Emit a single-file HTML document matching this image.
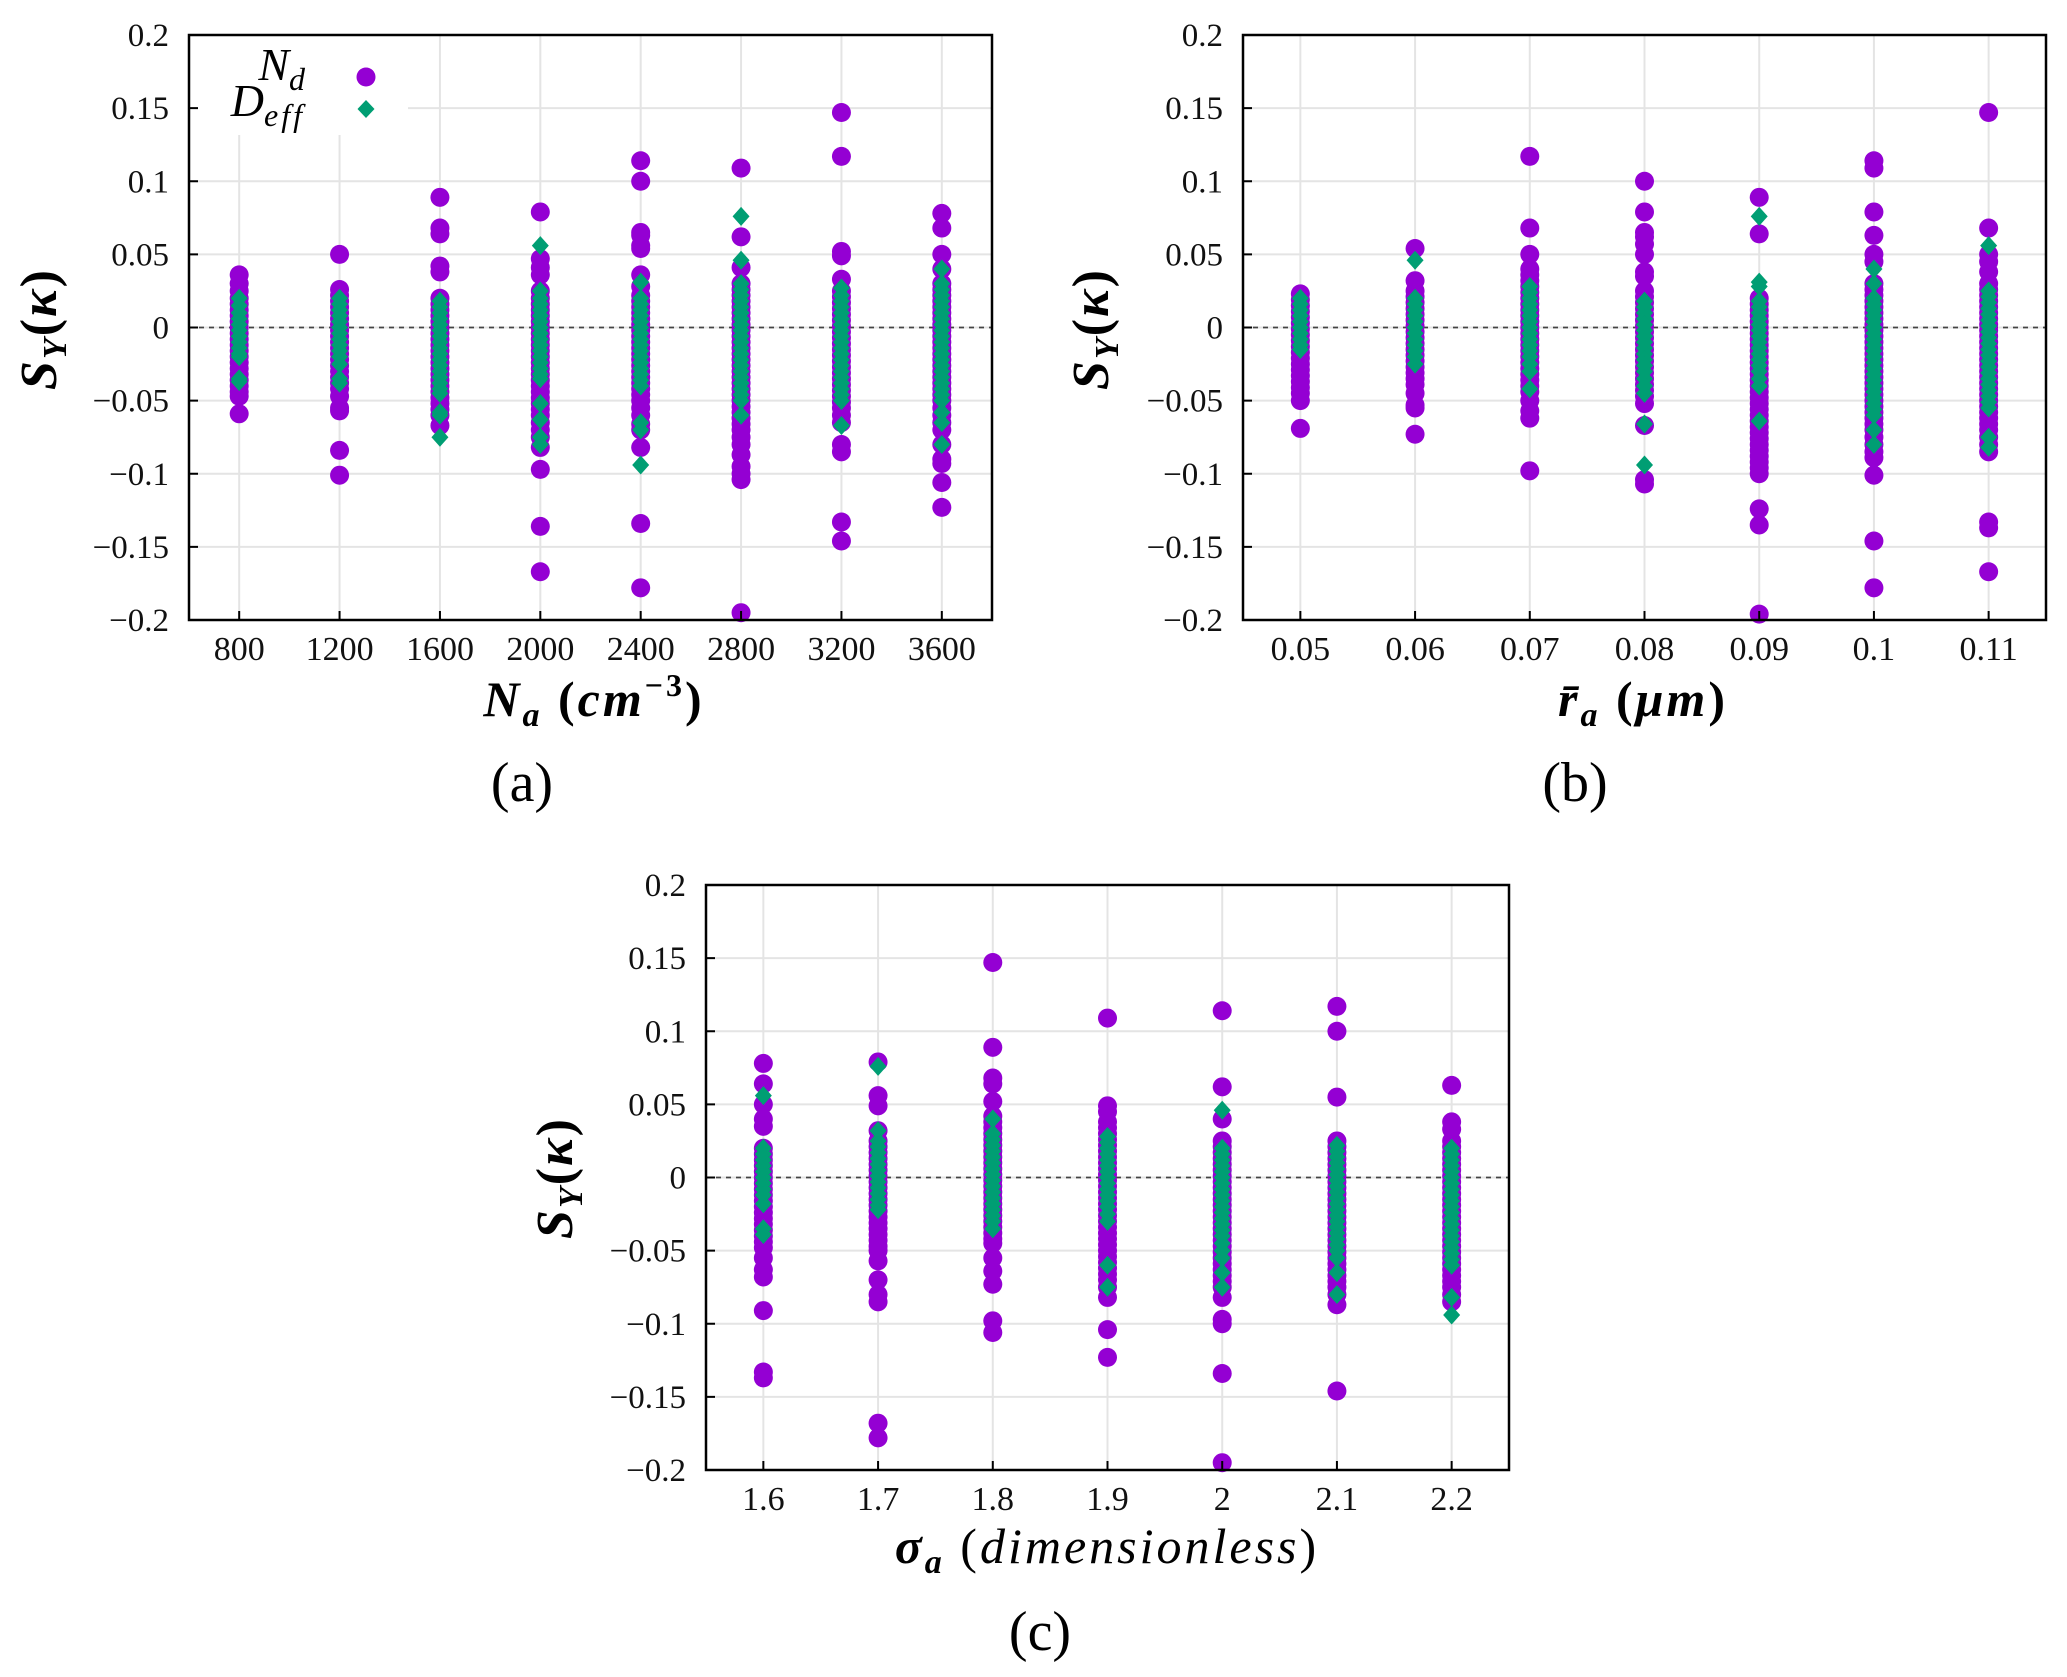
<!DOCTYPE html>
<html><head><meta charset="utf-8"><style>
html,body{margin:0;padding:0;background:#fff;}
svg{display:block;font-family:"Liberation Serif",serif;}
</style></head><body>
<svg id="fig" width="2067" height="1677" viewBox="0 0 2067 1677" xmlns="http://www.w3.org/2000/svg"></svg>
<script>
// ---------- Panel (a) data ----------
const aCategories = [800,1200,1600,2000,2400,2800,3200,3600];
const aNd = [
 [0.036,0.03,0.025,0.02,0.016,0.012,0.008,0.004,0,-0.004,-0.008,-0.012,-0.016,-0.02,-0.024,-0.028,-0.032,-0.036,-0.04,-0.044,-0.047,-0.059],
 [0.05,0.026,0.022,0.018,0.014,0.01,0.006,0.002,-0.002,-0.006,-0.01,-0.014,-0.018,-0.022,-0.026,-0.03,-0.034,-0.038,-0.042,-0.047,-0.055,-0.057,-0.084,-0.101],
 [0.089,0.068,0.064,0.042,0.038,0.02,0.016,0.012,0.008,0.004,0,-0.004,-0.008,-0.012,-0.016,-0.02,-0.024,-0.028,-0.032,-0.036,-0.04,-0.044,-0.048,-0.052,-0.056,-0.06,-0.067],
 [0.079,0.047,0.041,0.036,0.025,0.02,0.016,0.012,0.008,0.004,0,-0.004,-0.008,-0.012,-0.016,-0.02,-0.024,-0.028,-0.032,-0.036,-0.04,-0.044,-0.048,-0.052,-0.056,-0.06,-0.065,-0.07,-0.075,-0.082,-0.097,-0.136,-0.167],
 [0.114,0.1,0.065,0.063,0.056,0.054,0.036,0.028,0.022,0.018,0.014,0.01,0.006,0.002,-0.002,-0.006,-0.01,-0.014,-0.018,-0.022,-0.026,-0.03,-0.034,-0.038,-0.042,-0.046,-0.05,-0.055,-0.06,-0.066,-0.07,-0.082,-0.134,-0.178],
 [0.109,0.062,0.041,0.03,0.026,0.022,0.018,0.014,0.01,0.006,0.002,-0.002,-0.006,-0.01,-0.014,-0.018,-0.022,-0.026,-0.03,-0.034,-0.038,-0.042,-0.046,-0.05,-0.054,-0.058,-0.062,-0.066,-0.07,-0.075,-0.08,-0.087,-0.095,-0.1,-0.104,-0.195],
 [0.147,0.117,0.052,0.049,0.033,0.025,0.021,0.017,0.013,0.009,0.005,0.001,-0.003,-0.007,-0.011,-0.015,-0.019,-0.023,-0.027,-0.031,-0.035,-0.039,-0.043,-0.047,-0.051,-0.055,-0.06,-0.065,-0.08,-0.085,-0.133,-0.146],
 [0.078,0.068,0.05,0.04,0.03,0.026,0.022,0.018,0.014,0.01,0.006,0.002,-0.002,-0.006,-0.01,-0.014,-0.018,-0.022,-0.026,-0.03,-0.034,-0.038,-0.042,-0.046,-0.05,-0.055,-0.06,-0.065,-0.07,-0.08,-0.09,-0.093,-0.106,-0.123]
];
const aDeff = [
 [0.02,0.015,0.01,0.006,0.002,-0.002,-0.006,-0.01,-0.014,-0.018,-0.02,-0.035,-0.037],
 [0.02,0.016,0.012,0.008,0.004,0,-0.004,-0.008,-0.012,-0.016,-0.02,-0.025,-0.035,-0.038],
 [0.018,0.014,0.01,0.006,0.002,-0.002,-0.006,-0.01,-0.014,-0.018,-0.022,-0.026,-0.03,-0.034,-0.038,-0.042,-0.045,-0.058,-0.06,-0.075],
 [0.056,0.025,0.02,0.016,0.012,0.008,0.004,0,-0.004,-0.008,-0.012,-0.016,-0.02,-0.024,-0.028,-0.032,-0.035,-0.052,-0.063,-0.075,-0.08],
 [0.031,0.02,0.016,0.012,0.008,0.004,0,-0.004,-0.008,-0.012,-0.016,-0.02,-0.024,-0.028,-0.032,-0.036,-0.04,-0.065,-0.07,-0.094],
 [0.076,0.046,0.03,0.026,0.022,0.018,0.014,0.01,0.006,0.002,-0.002,-0.006,-0.01,-0.014,-0.018,-0.022,-0.026,-0.03,-0.034,-0.038,-0.042,-0.046,-0.05,-0.06],
 [0.027,0.022,0.018,0.014,0.01,0.006,0.002,-0.002,-0.006,-0.01,-0.014,-0.018,-0.022,-0.026,-0.03,-0.034,-0.038,-0.042,-0.046,-0.05,-0.067],
 [0.04,0.03,0.026,0.022,0.018,0.014,0.01,0.006,0.002,-0.002,-0.006,-0.01,-0.014,-0.018,-0.022,-0.026,-0.03,-0.034,-0.038,-0.042,-0.046,-0.05,-0.058,-0.065,-0.08]
];
const aTicks = ["800","1200","1600","2000","2400","2800","3200","3600"];
// ---------- Panel (b) data ----------
const bCategories = [0.05,0.06,0.07,0.08,0.09,0.1,0.11];
const bNd = [
 [0.023,0.019,0.015,0.011,0.007,0.003,-0.001,-0.005,-0.009,-0.013,-0.017,-0.021,-0.025,-0.029,-0.033,-0.037,-0.041,-0.045,-0.05,-0.069],
 [0.054,0.032,0.025,0.021,0.017,0.013,0.009,0.005,0.001,-0.003,-0.007,-0.011,-0.015,-0.019,-0.023,-0.027,-0.031,-0.035,-0.039,-0.045,-0.053,-0.055,-0.073],
 [0.117,0.068,0.05,0.04,0.036,0.032,0.028,0.024,0.02,0.016,0.012,0.008,0.004,0,-0.004,-0.008,-0.012,-0.016,-0.02,-0.024,-0.028,-0.032,-0.036,-0.04,-0.044,-0.05,-0.057,-0.062,-0.098],
 [0.1,0.079,0.065,0.062,0.057,0.05,0.038,0.035,0.025,0.021,0.017,0.013,0.009,0.005,0.001,-0.003,-0.007,-0.011,-0.015,-0.019,-0.023,-0.027,-0.031,-0.035,-0.039,-0.043,-0.047,-0.052,-0.067,-0.104,-0.107],
 [0.089,0.064,0.02,0.016,0.012,0.008,0.004,0,-0.004,-0.008,-0.012,-0.016,-0.02,-0.024,-0.028,-0.032,-0.036,-0.04,-0.044,-0.048,-0.052,-0.056,-0.06,-0.064,-0.068,-0.072,-0.076,-0.08,-0.084,-0.088,-0.092,-0.096,-0.1,-0.124,-0.135,-0.196],
 [0.114,0.109,0.079,0.063,0.05,0.045,0.03,0.026,0.022,0.018,0.014,0.01,0.006,0.002,-0.002,-0.006,-0.01,-0.014,-0.018,-0.022,-0.026,-0.03,-0.034,-0.038,-0.042,-0.046,-0.05,-0.054,-0.058,-0.062,-0.066,-0.07,-0.075,-0.08,-0.085,-0.089,-0.101,-0.146,-0.178],
 [0.147,0.068,0.05,0.045,0.038,0.03,0.026,0.022,0.018,0.014,0.01,0.006,0.002,-0.002,-0.006,-0.01,-0.014,-0.018,-0.022,-0.026,-0.03,-0.034,-0.038,-0.042,-0.046,-0.05,-0.054,-0.058,-0.062,-0.066,-0.07,-0.075,-0.08,-0.085,-0.133,-0.137,-0.167]
];
const bDeff = [
 [0.02,0.016,0.012,0.008,0.004,0,-0.004,-0.008,-0.012,-0.015],
 [0.046,0.02,0.016,0.012,0.008,0.004,0,-0.004,-0.008,-0.012,-0.016,-0.02,-0.025],
 [0.028,0.024,0.02,0.016,0.012,0.008,0.004,0,-0.004,-0.008,-0.012,-0.016,-0.02,-0.025,-0.03,-0.042],
 [0.018,0.014,0.01,0.006,0.002,-0.002,-0.006,-0.01,-0.014,-0.018,-0.022,-0.026,-0.03,-0.035,-0.04,-0.045,-0.066,-0.094],
 [0.076,0.031,0.028,0.018,0.014,0.01,0.006,0.002,-0.002,-0.006,-0.01,-0.014,-0.018,-0.022,-0.026,-0.03,-0.035,-0.04,-0.064],
 [0.04,0.03,0.02,0.016,0.012,0.008,0.004,0,-0.004,-0.008,-0.012,-0.016,-0.02,-0.024,-0.028,-0.032,-0.036,-0.04,-0.044,-0.048,-0.052,-0.056,-0.06,-0.07,-0.08],
 [0.056,0.025,0.021,0.017,0.013,0.009,0.005,0.001,-0.003,-0.007,-0.011,-0.015,-0.019,-0.023,-0.027,-0.031,-0.035,-0.039,-0.043,-0.047,-0.051,-0.055,-0.075,-0.082]
];
const bTicks = ["0.05","0.06","0.07","0.08","0.09","0.1","0.11"];
// ---------- Panel (c) data ----------
const cCategories = [1.6,1.7,1.8,1.9,2.0,2.1,2.2];
const cNd = [
 [0.078,0.064,0.05,0.04,0.035,0.02,0.016,0.012,0.008,0.004,0,-0.004,-0.008,-0.012,-0.016,-0.02,-0.024,-0.028,-0.032,-0.036,-0.04,-0.044,-0.048,-0.055,-0.063,-0.068,-0.091,-0.133,-0.137],
 [0.079,0.056,0.049,0.032,0.025,0.021,0.017,0.013,0.009,0.005,0.001,-0.003,-0.007,-0.011,-0.015,-0.019,-0.023,-0.027,-0.031,-0.035,-0.039,-0.043,-0.047,-0.05,-0.057,-0.07,-0.08,-0.085,-0.168,-0.178],
 [0.147,0.089,0.068,0.064,0.052,0.042,0.038,0.034,0.03,0.026,0.022,0.018,0.014,0.01,0.006,0.002,-0.002,-0.006,-0.01,-0.014,-0.018,-0.022,-0.026,-0.03,-0.034,-0.038,-0.042,-0.045,-0.055,-0.064,-0.073,-0.098,-0.106],
 [0.109,0.049,0.045,0.038,0.034,0.03,0.026,0.022,0.018,0.014,0.01,0.006,0.002,-0.002,-0.006,-0.01,-0.014,-0.018,-0.022,-0.026,-0.03,-0.034,-0.038,-0.042,-0.046,-0.05,-0.054,-0.058,-0.062,-0.066,-0.07,-0.075,-0.082,-0.104,-0.123],
 [0.114,0.062,0.04,0.025,0.021,0.017,0.013,0.009,0.005,0.001,-0.003,-0.007,-0.011,-0.015,-0.019,-0.023,-0.027,-0.031,-0.035,-0.039,-0.043,-0.047,-0.051,-0.055,-0.059,-0.063,-0.067,-0.071,-0.075,-0.082,-0.097,-0.1,-0.134,-0.195],
 [0.117,0.1,0.055,0.025,0.021,0.017,0.013,0.009,0.005,0.001,-0.003,-0.007,-0.011,-0.015,-0.019,-0.023,-0.027,-0.031,-0.035,-0.039,-0.043,-0.047,-0.051,-0.055,-0.059,-0.063,-0.067,-0.071,-0.075,-0.08,-0.087,-0.146],
 [0.063,0.038,0.033,0.025,0.021,0.017,0.013,0.009,0.005,0.001,-0.003,-0.007,-0.011,-0.015,-0.019,-0.023,-0.027,-0.031,-0.035,-0.039,-0.043,-0.047,-0.051,-0.055,-0.059,-0.063,-0.067,-0.071,-0.075,-0.08,-0.085]
];
const cDeff = [
 [0.056,0.02,0.016,0.012,0.008,0.004,0,-0.004,-0.008,-0.012,-0.018,-0.035,-0.039],
 [0.076,0.032,0.025,0.021,0.017,0.013,0.009,0.005,0.001,-0.003,-0.007,-0.011,-0.015,-0.019,-0.022],
 [0.04,0.03,0.026,0.022,0.018,0.014,0.01,0.006,0.002,-0.002,-0.006,-0.01,-0.014,-0.018,-0.022,-0.026,-0.03,-0.035],
 [0.028,0.024,0.02,0.016,0.012,0.008,0.004,0,-0.004,-0.008,-0.012,-0.016,-0.02,-0.025,-0.03,-0.06,-0.075],
 [0.046,0.02,0.016,0.012,0.008,0.004,0,-0.004,-0.008,-0.012,-0.016,-0.02,-0.024,-0.028,-0.032,-0.036,-0.04,-0.045,-0.05,-0.055,-0.065,-0.075],
 [0.022,0.018,0.014,0.01,0.006,0.002,-0.002,-0.006,-0.01,-0.014,-0.018,-0.022,-0.026,-0.03,-0.034,-0.038,-0.042,-0.046,-0.05,-0.055,-0.065,-0.08],
 [0.02,0.016,0.012,0.008,0.004,0,-0.004,-0.008,-0.012,-0.016,-0.02,-0.024,-0.028,-0.032,-0.036,-0.04,-0.044,-0.048,-0.052,-0.056,-0.06,-0.082,-0.094]
];
const cTicks = ["1.6","1.7","1.8","1.9","2","2.1","2.2"];
// ---------- shared y axis ----------
const yTickValues = [0.2,0.15,0.1,0.05,0,-0.05,-0.1,-0.15,-0.2];
const yTickLabels = ["0.2","0.15","0.1","0.05","0","\u22120.05","\u22120.1","\u22120.15","\u22120.2"];

const NS = "http://www.w3.org/2000/svg";
const svg = document.getElementById('fig');
function mk(tag, attrs, parent){
  const e = document.createElementNS(NS, tag);
  for (const k in attrs) e.setAttribute(k, attrs[k]);
  (parent||svg).appendChild(e);
  return e;
}
const PURPLE = "#9400D3", GREEN = "#009E73";

function panel(p){
  const g = mk('g', {});
  
  
  const X = v => p.L + (v - p.x0) / (p.x1 - p.x0) * (p.R - p.L);
  const Y = v => p.T + (0.2 - v) / 0.4 * (p.B - p.T);
  yTickValues.forEach((v,i) => {
    const l = mk('line', {x1:p.L, x2:p.R, y1:Y(v), y2:Y(v), stroke:'#e4e4e4', 'stroke-width':2}, g);
    
    
  });
  p.cats.forEach((c,i) => {
    const l = mk('line', {x1:X(c), x2:X(c), y1:p.T, y2:p.B, stroke:'#e4e4e4', 'stroke-width':2}, g);
    
    
  });
  if (p.legend){
    const r = mk('rect', {x:p.L+1, y:p.T+1, width:218, height:99, fill:'#fff'}, g);
    
    
  }
  const z = mk('line', {x1:p.L, x2:p.R, y1:Y(0), y2:Y(0), stroke:'#444', 'stroke-width':1.8, 'stroke-dasharray':'5,5'}, g);
  
  
  p.nd.forEach((col,i) => col.forEach(v => {
    const c = mk('circle', {cx:X(p.cats[i]), cy:Y(v), r:9.5, fill:PURPLE}, g);
    
    
  }));
  p.deff.forEach((col,i) => col.forEach(v => {
    const cx = X(p.cats[i]), cy = Y(v);
    const d = mk('polygon', {points:`${cx},${cy-9.5} ${cx+8.5},${cy} ${cx},${cy+9.5} ${cx-8.5},${cy}`, fill:GREEN}, g);
    
    
  }));
  const f = mk('rect', {x:p.L, y:p.T, width:p.R-p.L, height:p.B-p.T, fill:'none', stroke:'#000', 'stroke-width':2.5}, g);
  
  
  yTickValues.forEach((v,i) => {
    mk('line', {x1:p.L, x2:p.L+9, y1:Y(v), y2:Y(v), stroke:'#000', 'stroke-width':2}, g);
    const t = mk('text', {x:p.L-20, y:Y(v)+11, 'font-size':33, 'text-anchor':'end', fill:'#111'}, g);
    t.textContent = yTickLabels[i];
    
    
  });
  p.cats.forEach((c,i) => {
    mk('line', {x1:X(c), x2:X(c), y1:p.B, y2:p.B-9, stroke:'#000', 'stroke-width':2}, g);
    const t = mk('text', {x:X(c), y:p.B+40, 'font-size':34, 'text-anchor':'middle', fill:'#111'}, g);
    t.textContent = p.ticks[i];
    
    
  });
  return {g, X, Y};
}

function addText(html, attrs, name){
  const t = mk('text', attrs);
  t.innerHTML = html;
  
  
  return t;
}
const ytitle = '<tspan font-weight="bold" font-style="italic">S</tspan><tspan font-weight="bold" font-style="italic" font-size="34" dy="10">Y</tspan><tspan dy="-10" font-weight="bold">(</tspan><tspan font-weight="bold" font-style="italic">κ</tspan><tspan font-weight="bold">)</tspan>';

panel({name:'panel-a', L:189, R:992, T:35, B:620, x0:600, x1:3800, cats:aCategories, nd:aNd, deff:aDeff, ticks:aTicks, legend:true});
panel({name:'panel-b', L:1243, R:2046, T:35, B:620, x0:0.045, x1:0.115, cats:bCategories, nd:bNd, deff:bDeff, ticks:bTicks});
panel({name:'panel-c', L:706, R:1509, T:885, B:1470, x0:1.55, x1:2.25, cats:cCategories, nd:cNd, deff:cDeff, ticks:cTicks});

addText('<tspan font-style="italic">N</tspan><tspan font-style="italic" font-size="32" dy="10">d</tspan>', {x:305, y:80, 'font-size':46, 'text-anchor':'end'}, 'legend-label-nd');
addText('<tspan font-style="italic">D</tspan><tspan font-style="italic" font-size="32" dy="10" letter-spacing="3">eff</tspan>', {x:305, y:116, 'font-size':46, 'text-anchor':'end'}, 'legend-label-deff');
const lc = mk('circle', {cx:366, cy:77, r:9.5, fill:PURPLE});


const ld = mk('polygon', {points:'366,100 374.5,109 366,118 357.5,109', fill:GREEN});



addText(ytitle, {x:0, y:0, 'font-size':52, 'text-anchor':'middle', 'letter-spacing':2, transform:'translate(56,329) rotate(-90)'}, 'y-axis-title-a');
addText(ytitle, {x:0, y:0, 'font-size':52, 'text-anchor':'middle', 'letter-spacing':2, transform:'translate(1108,329) rotate(-90)'}, 'y-axis-title-b');
addText(ytitle, {x:0, y:0, 'font-size':52, 'text-anchor':'middle', 'letter-spacing':2, transform:'translate(572,1178) rotate(-90)'}, 'y-axis-title-c');

addText('<tspan font-weight="bold" font-style="italic">N</tspan><tspan font-weight="bold" font-style="italic" font-size="34" dy="10">a</tspan><tspan dy="-10" font-weight="bold"> (</tspan><tspan font-weight="bold" font-style="italic">cm</tspan><tspan font-weight="bold" font-size="32" dy="-20">−3</tspan><tspan dy="20" font-weight="bold">)</tspan>', {x:594, y:716, 'font-size':50, 'text-anchor':'middle', 'letter-spacing':3}, 'x-axis-title-a');
addText('<tspan font-weight="bold" font-style="italic">r̄</tspan><tspan font-weight="bold" font-style="italic" font-size="34" dy="10">a</tspan><tspan dy="-10" font-weight="bold"> (</tspan><tspan font-weight="bold" font-style="italic">μm</tspan><tspan font-weight="bold">)</tspan>', {x:1643, y:716, 'font-size':50, 'text-anchor':'middle', 'letter-spacing':3}, 'x-axis-title-b');
addText('<tspan font-weight="bold" font-style="italic">σ</tspan><tspan font-weight="bold" font-style="italic" font-size="34" dy="10">a</tspan><tspan dy="-10"> (</tspan><tspan font-style="italic">dimensionless</tspan><tspan>)</tspan>', {x:1107, y:1563, 'font-size':50, 'text-anchor':'middle', 'letter-spacing':3}, 'x-axis-title-c');

addText('(a)', {x:522, y:801, 'font-size':56, 'text-anchor':'middle'}, 'caption-a');
addText('(b)', {x:1575, y:801, 'font-size':56, 'text-anchor':'middle'}, 'caption-b');
addText('(c)', {x:1040, y:1650, 'font-size':56, 'text-anchor':'middle'}, 'caption-c');
</script>
</body></html>
